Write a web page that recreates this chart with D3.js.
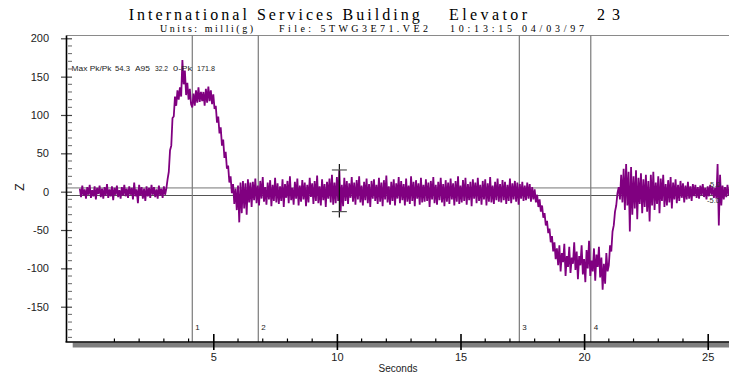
<!DOCTYPE html>
<html>
<head>
<meta charset="utf-8">
<script src="https://cdn.jsdelivr.net/npm/d3@7"></script>
<style>
  body { margin: 0; background: #fff; }
  svg { display: block; }
</style>
</head>
<body>
<svg id="chart" width="729" height="373"></svg>
<script>
// Vertical (Z) acceleration record, milli-g, sampled every 0.05 s from t = -0.40 s
const startTime = -0.40;
const sampleStep = 0.05;
const accel = [
  // -0.40 .. 0.55
  4,-7,8,-5,3,-9,6,-4,9,-8,2,-6,7,-10,5,-3,8,-7,4,-9,
  // 0.60 .. 1.55
  6,-5,10,-8,3,-6,7,-11,5,-4,8,-7,2,-9,6,-5,9,-6,4,-8,
  // 1.60 .. 2.55
  7,-4,5,-10,12,-6,3,-15,9,-5,6,-9,4,-12,7,-6,5,-8,9,-4,
  // 2.60 .. 3.55  (start of up-travel acceleration)
  6,-7,3,-9,8,-5,4,-8,7,-4,4,16,26,54,60,96,98,124,112,132,
  // 3.60 .. 4.55
  120,136,124,171.8,140,158,126,142,120,134,114,110,128,112,132,116,136,117,130,118,
  // 4.60 .. 5.55
  130,112,134,116,137,118,132,114,127,108,112,90,98,76,84,60,68,44,52,30,
  // 5.60 .. 6.55
  34,12,20,-2,10,-16,4,-24,8,-40,12,-28,14,-22,11,-30,16,-14,12,-20,
  // 6.60 .. 7.55  (constant speed)
  13,-11,17,-15,8,-18,14,-9,19,-13,6,-17,12,-10,15,-19,9,-12,18,-14,
  // 7.60 .. 8.55
  11,-16,7,-12,16,-20,10,-8,14,-15,20,-11,5,-17,13,-9,17,-18,8,-13,
  // 8.60 .. 9.55
  15,-10,12,-19,9,-14,18,-7,11,-16,14,-12,21,-15,7,-18,16,-11,10,-20,
  // 9.60 .. 10.55
  13,-9,17,-14,22,-17,12,-15,19,-12,28.3,-26,9,-19,18,-12,14,-16,11,-8,
  // 10.60 .. 11.55
  19,-13,12,-17,15,-10,20,-14,8,-18,13,-11,17,-15,10,-20,14,-9,16,-12,
  // 11.60 .. 12.55
  9,-16,18,-13,12,-19,15,-10,21,-14,7,-17,13,-12,16,-18,11,-9,19,-15,
  // 12.60 .. 13.55
  14,-11,10,-18,17,-13,8,-16,20,-12,13,-19,15,-9,11,-17,18,-14,9,-13,
  // 13.60 .. 14.55
  16,-12,12,-20,14,-10,19,-15,9,-17,13,-11,18,-14,10,-19,15,-13,12,-16,
  // 14.60 .. 15.55
  17,-10,11,-18,14,-13,20,-16,8,-14,15,-12,18,-17,10,-11,13,-19,16,-9,
  // 15.60 .. 16.55
  12,-15,18,-12,9,-17,14,-10,16,-18,11,-13,19,-14,8,-16,13,-11,17,-13,
  // 16.60 .. 17.55
  10,-14,15,-11,13,-16,9,-12,17,-15,11,-10,14,-13,12,-17,10,-9,13,-12,
  // 17.60 .. 18.55  (deceleration begins)
  8,-11,12,-9,10,-13,6,-10,3,-14,-4,-20,-10,-26,-18,-34,-28,-44,-38,-54,
  // 18.60 .. 19.55
  -48,-66,-58,-78,-66,-88,-74,-96,-70,-104,-80,-92,-68,-110,-84,-98,-72,-106,-86,-94,
  // 19.60 .. 20.55
  -66,-102,-78,-114,-84,-96,-70,-108,-88,-118,-76,-100,-64,-110,-90,-104,-74,-116,-82,-98,
  // 20.60 .. 21.55
  -72,-112,-86,-128,-94,-120,-80,-104,-96,-70,-78,-52,-44,-26,-18,-2,6,-10,22,-14,
  // 21.60 .. 22.55  (stop, car settling)
  30,-24,36,-18,26,-52,32,-30,20,-22,28,-36,18,-16,24,-28,16,-20,22,-26,
  // 22.60 .. 23.55
  14,-39,22,-18,26,-24,12,-16,20,-28,17,-12,22,-20,10,-18,15,-14,19,-22,
  // 23.60 .. 24.55
  12,-10,16,-15,9,-12,14,-8,11,-14,8,-10,13,-9,7,-12,10,-6,9,-8,
  // 24.60 .. 25.55
  6,-9,8,-5,10,-7,5,-10,7,-6,9,-4,6,-8,5,-9,36,-44,22,-18,
  // 25.60 .. 25.90
  8,-10,6,-7,9,-5,4
];

// Event markers
const markerTimes = [4.15, 6.82, 17.38, 20.27];
const markerLabels = ["1", "2", "3", "4"];

// +/- 5 milli-g reference band
const bandLimits = [5, -5];
const bandLabels = ["5.0", "-5.0"];

// Max peak-to-peak cursor
const crossTime = 10.1;
const crossHigh = 28.3;
const crossLow = -26.0;

// Summary statistics
const statLabels = ["Max Pk/Pk", "54.3", "A95", "32.2", "0-Pk", "171.8"];

// Axis ticks
const yMajorTicks = [-150, -100, -50, 0, 50, 100, 150, 200];
const yMinorTicks = d3.range(-190, 201, 10).filter(v => v % 50 !== 0);
const xMajorTicks = [5, 10, 15, 20, 25];
const xMinorTicks = d3.range(1, 26).filter(v => v % 5 !== 0);

// Header text
const titleParts = ["International Services Building", "Elevator", "23"];
const subtitleParts = ["Units: milli(g)", "File: 5TWG3E71.VE2", "10:13:15 04/03/97"];
const xTitle = "Seconds";
const yTitle = "Z";

// ---------------------------------------------------------------
const svg = d3.select("#chart");
const W = 729;
const plotLeft = 66.5, plotTop = 35.5, plotBottom = 342;

const x = d3.scaleLinear().domain([0, 25]).range([89.7, 707.7]);
const y = d3.scaleLinear().domain([-150, 200]).range([306.7, 38.3]);

const sans = "'Liberation Sans', Arial, Helvetica, sans-serif";
const serif = "'Liberation Serif', 'Times New Roman', serif";

// Header
const titleLayout = [[128.7, 291], [449, 78], [597, 23]];
svg.append("g").selectAll("text").data(titleParts).join("text")
  .attr("x", (d, i) => titleLayout[i][0])
  .attr("y", 20)
  .attr("textLength", (d, i) => titleLayout[i][1])
  .attr("lengthAdjust", "spacing")
  .style("font-family", serif).style("font-size", "16px").attr("fill", "#000")
  .text(d => d);

const subLayout = [[160, 93], [279, 149], [450, 134]];
svg.append("g").selectAll("text").data(subtitleParts).join("text")
  .attr("x", (d, i) => subLayout[i][0])
  .attr("y", 31.5)
  .attr("textLength", (d, i) => subLayout[i][1])
  .attr("lengthAdjust", "spacing")
  .style("font-family", serif).style("font-size", "10px").attr("fill", "#000")
  .text(d => d);

// Plot clip
svg.append("defs").append("clipPath").attr("id", "plotClip")
  .append("rect").attr("x", plotLeft).attr("y", plotTop)
  .attr("width", W - plotLeft).attr("height", plotBottom - plotTop);

// Top frame line
svg.append("line")
  .attr("x1", plotLeft).attr("x2", W).attr("y1", plotTop).attr("y2", plotTop)
  .attr("stroke", "#8a8a8a").attr("stroke-width", 1);

// +/- 5 band lines
svg.append("g").selectAll("line").data(bandLimits).join("line")
  .attr("x1", plotLeft).attr("x2", W)
  .attr("y1", d => y(d)).attr("y2", d => y(d))
  .attr("stroke", (d, i) => i === 0 ? "#b0b0b0" : "#555")
  .attr("stroke-width", (d, i) => i === 0 ? 1.6 : 1);

// Marker lines
const markers = svg.append("g");
markers.selectAll("line").data(markerTimes).join("line")
  .attr("x1", d => x(d)).attr("x2", d => x(d))
  .attr("y1", plotTop).attr("y2", plotBottom)
  .attr("stroke", "#7a7a7a").attr("stroke-width", 1.2);
markers.selectAll("text").data(markerTimes).join("text")
  .attr("x", d => x(d) + 3).attr("y", 330)
  .style("font-family", sans).style("font-size", "8px").attr("fill", "#222")
  .text((d, i) => markerLabels[i]);

// Acceleration trace
const trace = d3.line()
  .x((d, i) => x(startTime + i * sampleStep))
  .y(d => y(d));
svg.append("path")
  .attr("clip-path", "url(#plotClip)")
  .attr("d", trace(accel))
  .attr("fill", "none")
  .attr("stroke", "#800080")
  .attr("stroke-width", 1.8)
  .attr("stroke-linejoin", "bevel");

// Peak-to-peak cursor
const cross = svg.append("g");
cross.append("line")
  .attr("x1", x(crossTime)).attr("x2", x(crossTime))
  .attr("y1", y(crossHigh) - 6).attr("y2", y(crossLow) + 6)
  .attr("stroke", "#111").attr("stroke-width", 1.2);
cross.selectAll("line.bar").data([crossHigh, crossLow]).join("line")
  .attr("class", "bar")
  .attr("x1", x(crossTime) - 7.5).attr("x2", x(crossTime) + 7.5)
  .attr("y1", d => y(d)).attr("y2", d => y(d))
  .attr("stroke", "#555").attr("stroke-width", 1.2);

// Band labels
svg.append("g").selectAll("text").data(bandLimits).join("text")
  .attr("x", (d, i) => i === 0 ? 710 : 707)
  .attr("y", (d, i) => i === 0 ? 186.5 : 203)
  .style("font-family", sans).style("font-size", "7.5px").attr("fill", "#333")
  .text((d, i) => bandLabels[i]);

// Statistics line
const statLayout = [[71.5, 40], [115, 15], [135, 15], [155, 13], [173, 19], [197, 18]];
svg.append("g").selectAll("text").data(statLabels).join("text")
  .attr("x", (d, i) => statLayout[i][0]).attr("y", 71)
  .attr("textLength", (d, i) => statLayout[i][1])
  .attr("lengthAdjust", "spacingAndGlyphs")
  .style("font-family", sans).style("font-size", "8px").attr("fill", "#222")
  .text(d => d);

// Y axis
const yAxis = svg.append("g").attr("transform", `translate(${plotLeft},0)`)
  .call(d3.axisLeft(y).tickValues(yMajorTicks).tickFormat(d => String(d)).tickSize(5.5).tickPadding(12));
yAxis.select(".domain").remove();
yAxis.selectAll(".tick line").attr("x1", 5.5).attr("stroke", "#444").attr("stroke-width", 1.2);
yAxis.selectAll(".tick text")
  .style("font-family", sans).style("font-size", "11px").attr("fill", "#222");
svg.append("g").selectAll("line").data(yMinorTicks).join("line")
  .attr("x1", plotLeft + 1.5).attr("x2", plotLeft + 5.5)
  .attr("y1", d => y(d)).attr("y2", d => y(d))
  .attr("stroke", "#666").attr("stroke-width", 1);
svg.append("line")
  .attr("x1", plotLeft).attr("x2", plotLeft).attr("y1", plotTop).attr("y2", plotBottom)
  .attr("stroke", "#000").attr("stroke-width", 1.6);

// X axis: shaded base strip, axis line, ticks
svg.append("rect")
  .attr("x", 72.7).attr("y", plotBottom + 0.5)
  .attr("width", W - 72.7).attr("height", 5)
  .attr("fill", "#7f7f7f");
const xAxis = svg.append("g").attr("transform", `translate(0,${plotBottom})`)
  .call(d3.axisBottom(x).tickValues(xMajorTicks).tickFormat(d => String(d)).tickSize(8).tickPadding(3));
xAxis.select(".domain").remove();
xAxis.selectAll(".tick line").attr("y1", -8).attr("stroke", "#000").attr("stroke-width", 1.6);
xAxis.selectAll(".tick text")
  .style("font-family", sans).style("font-size", "11px").attr("fill", "#222");
svg.append("g").selectAll("line").data(xMinorTicks).join("line")
  .attr("x1", d => x(d)).attr("x2", d => x(d))
  .attr("y1", plotBottom - 3.5).attr("y2", plotBottom)
  .attr("stroke", "#000").attr("stroke-width", 1.2);
svg.append("line")
  .attr("x1", plotLeft - 1).attr("x2", W).attr("y1", plotBottom).attr("y2", plotBottom)
  .attr("stroke", "#000").attr("stroke-width", 1.4);

// Axis titles
svg.append("text")
  .attr("x", 398).attr("y", 371.5).attr("text-anchor", "middle")
  .style("font-family", sans).style("font-size", "10px").attr("fill", "#222")
  .text(xTitle);
svg.append("text")
  .attr("transform", "translate(24,187) rotate(-90)").attr("text-anchor", "middle")
  .style("font-family", sans).style("font-size", "12px").attr("fill", "#222")
  .text(yTitle);
</script>
</body>
</html>
